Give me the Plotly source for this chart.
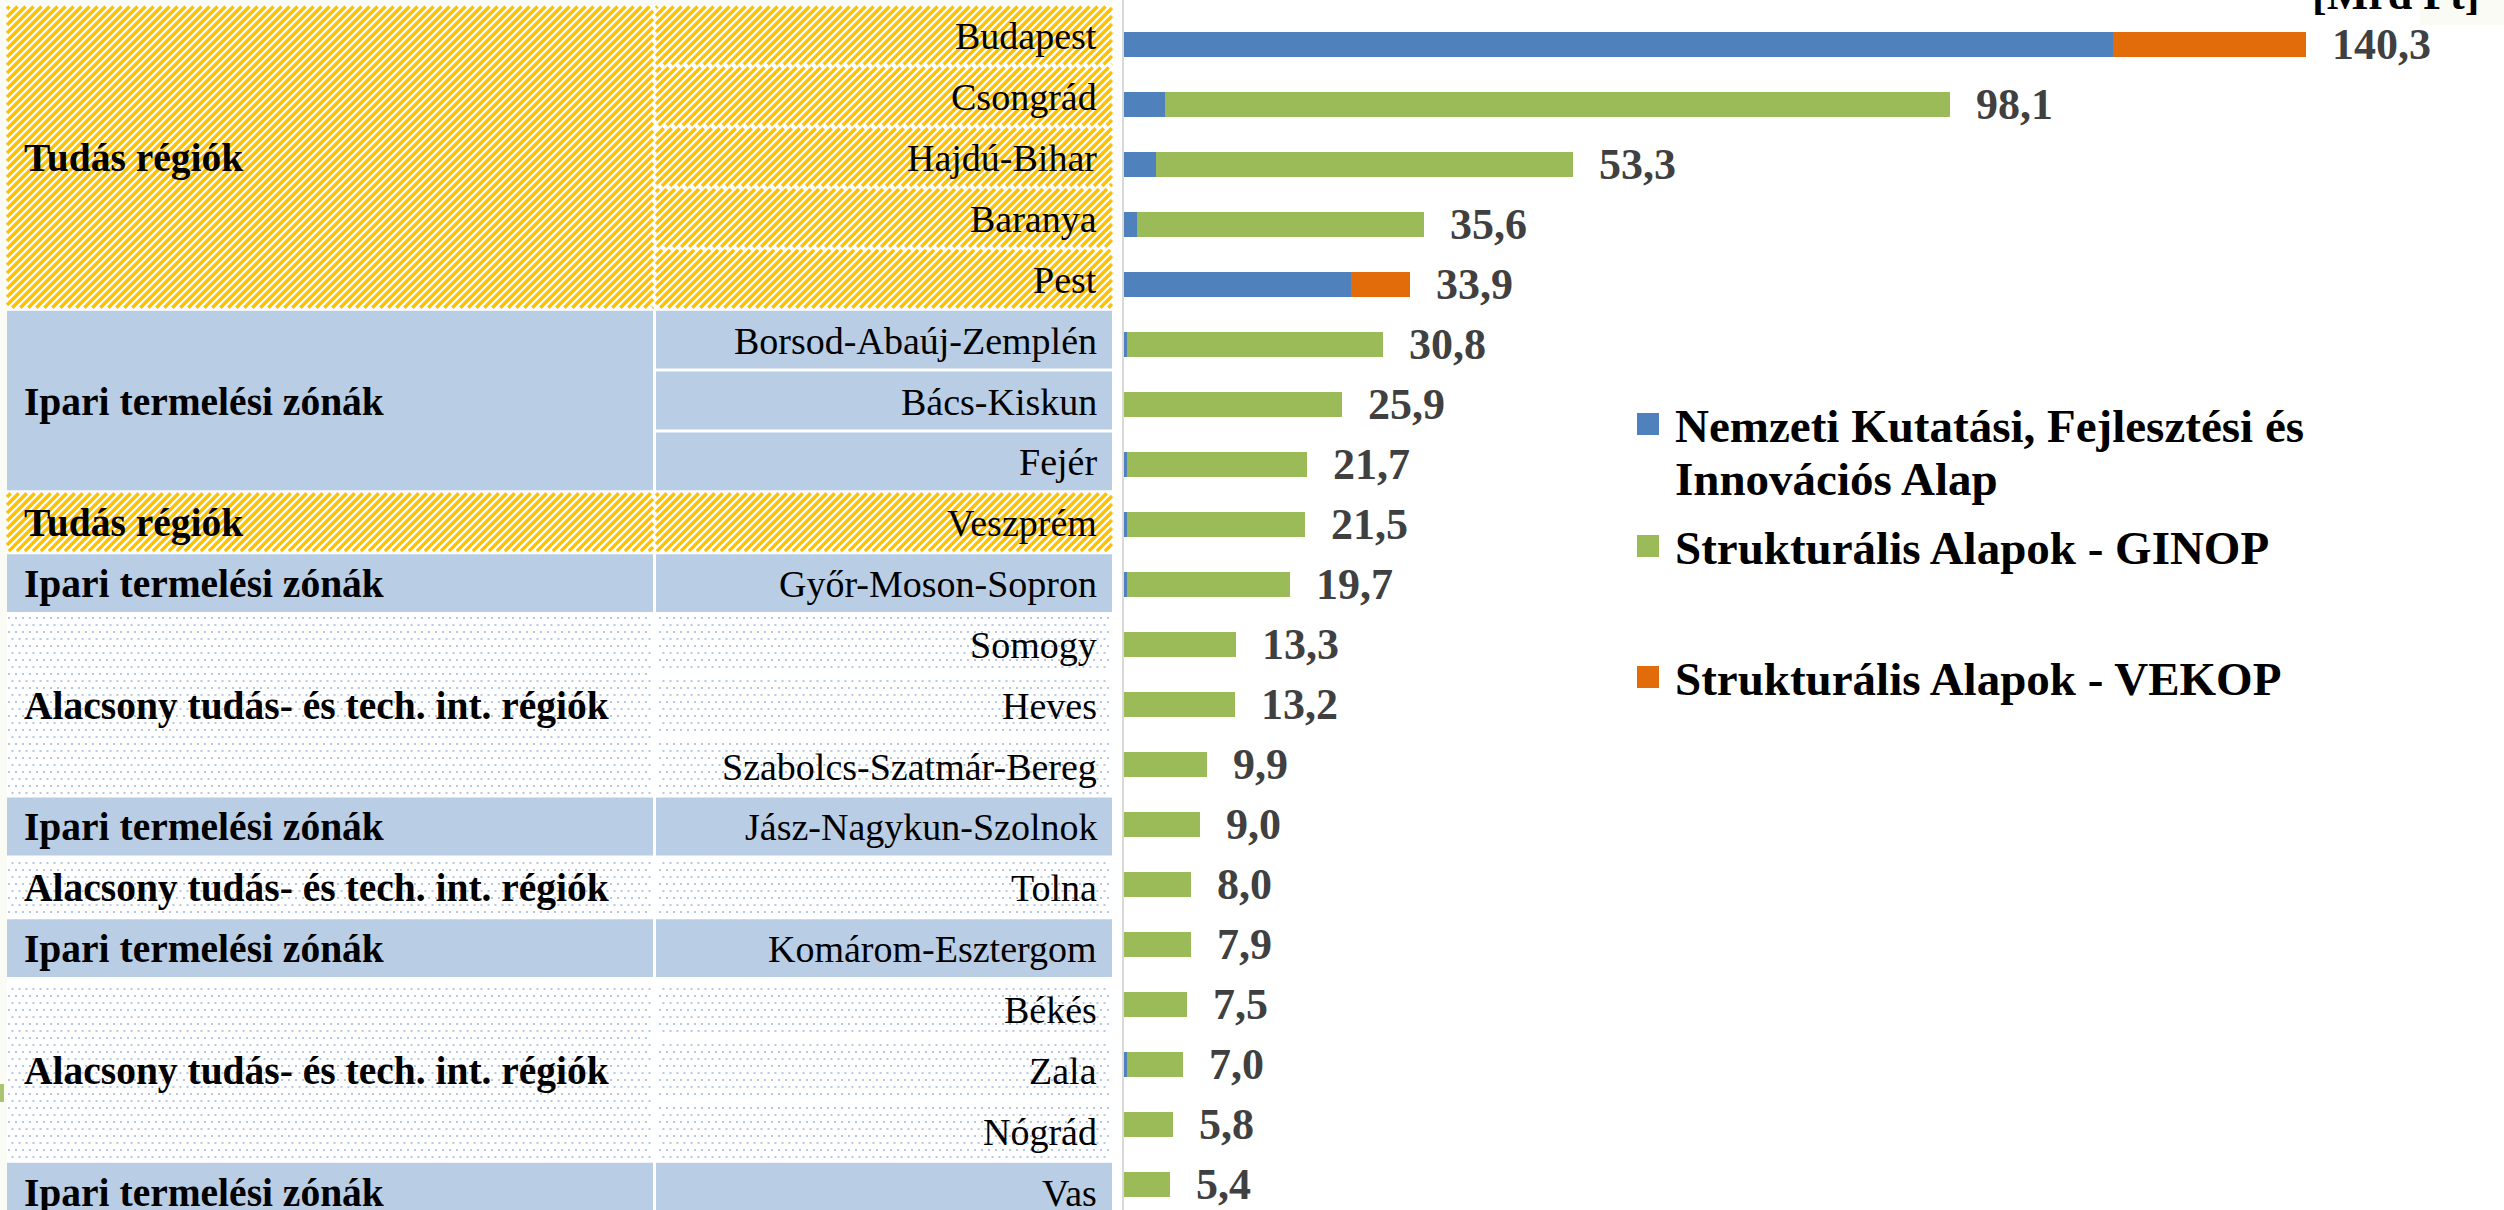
import math
import plotly.graph_objects as go

# ---------------- data ----------------
regions = ["Budapest", "Csongrád", "Hajdú-Bihar", "Baranya", "Pest",
           "Borsod-Abaúj-Zemplén", "Bács-Kiskun", "Fejér", "Veszprém",
           "Győr-Moson-Sopron", "Somogy", "Heves", "Szabolcs-Szatmár-Bereg",
           "Jász-Nagykun-Szolnok", "Tolna", "Komárom-Esztergom", "Békés",
           "Zala", "Nógrád", "Vas"]
nkfia = [117.4, 4.9, 3.8, 1.5, 27.0, 0.4, 0.0, 0.4, 0.3, 0.3,
         0.0, 0.0, 0.0, 0.0, 0.0, 0.0, 0.0, 0.3, 0.0, 0.0]
ginop = [0.0, 93.2, 49.5, 34.1, 0.0, 30.4, 25.9, 21.3, 21.2, 19.4,
         13.3, 13.2, 9.9, 9.0, 8.0, 7.9, 7.5, 6.7, 5.8, 5.4]
vekop = [22.9, 0.0, 0.0, 0.0, 6.9, 0.0, 0.0, 0.0, 0.0, 0.0,
         0.0, 0.0, 0.0, 0.0, 0.0, 0.0, 0.0, 0.0, 0.0, 0.0]
series_names = ["Nemzeti Kutatási, Fejlesztési és", "Innovációs Alap",
                "Strukturális Alapok - GINOP", "Strukturális Alapok - VEKOP"]
group_labels = ["Tudás régiók", "Ipari termelési zónák", "Tudás régiók",
                "Ipari termelési zónák", "Alacsony tudás- és tech. int. régiók",
                "Ipari termelési zónák", "Alacsony tudás- és tech. int. régiók",
                "Ipari termelési zónák", "Alacsony tudás- és tech. int. régiók",
                "Ipari termelési zónák"]
group_sizes = [5, 3, 1, 1, 3, 1, 1, 1, 3, 1]
unit_label = "[Mrd Ft]"

# ---------------- style ----------------
W, H = 2504, 1210
C_BLUE, C_GREEN, C_ORANGE = "#4F81BD", "#9BBB59", "#E36C0A"
CELL_BLUE = "#B9CDE5"
HATCH = "#FFC000"
DOT = "#B4C8E6"
CREAM = "#FAFBF4"
SERIF = "Liberation Serif, Times New Roman, serif"

X0_PX = 1124          # zero of value axis
PX_PER_UNIT = 8.425
ROW0_CENTER = 44.5    # bar row centers
ROW_STEP = 60.0
TBL_TOP, TBL_ROW = 5.0, 60.85
COL1 = (7, 653)
COL2 = (656, 1112)


def fx(px):
    return px / W


def fy(py):
    return 1 - py / H


totals = [round(a + b + c, 1) for a, b, c in zip(nkfia, ginop, vekop)]

fig = go.Figure()
for vals, col, nm in [(nkfia, C_BLUE, "NKFIA"), (ginop, C_GREEN, "GINOP"),
                      (vekop, C_ORANGE, "VEKOP")]:
    fig.add_trace(go.Bar(y=regions, x=vals, orientation="h", name=nm,
                         marker=dict(color=col, line=dict(width=0)),
                         width=0.41, showlegend=False, hoverinfo="x+y"))

shapes = []
annotations = []

# cream background strips
shapes.append(dict(type="rect", xref="paper", yref="paper", x0=0, x1=fx(COL1[0]),
                   y0=0, y1=1, fillcolor=CREAM, line=dict(width=0), layer="below"))
shapes.append(dict(type="rect", xref="paper", yref="paper", x0=0, x1=fx(COL2[1]),
                   y0=fy(TBL_TOP), y1=1, fillcolor=CREAM, line=dict(width=0), layer="below"))
shapes.append(dict(type="rect", xref="paper", yref="paper", x0=fx(0), x1=fx(4),
                   y0=fy(1102), y1=fy(1084), fillcolor="#A9C46E", line=dict(width=0),
                   layer="below"))
shapes.append(dict(type="rect", xref="paper", yref="paper", x0=fx(2420), x1=1,
                   y0=fy(25), y1=1, fillcolor=CREAM, line=dict(width=0), layer="below"))


def hatch_path(x0, y0, x1, y1, period=8.0):
    segs = []
    c = math.ceil((x0 + y0) / period) * period
    while c <= x1 + y1:
        xa = max(x0, c - y1)
        xb = min(x1, c - y0)
        if xb > xa:
            segs.append("M%.5f,%.5fL%.5f,%.5f" % (fx(xa), fy(c - xa), fx(xb), fy(c - xb)))
        c += period
    return "".join(segs)


def dots_path(x0, y0, x1, y1, step=7.0):
    segs = []
    yy = math.ceil(y0 / step) * step + 2
    while yy < y1 - 1:
        off = 0 if (int(round(yy / step)) % 2 == 0) else step / 2
        xx = math.ceil((x0 - off) / step) * step + off + 1
        while xx < x1 - 2:
            segs.append("M%.5f,%.5fL%.5f,%.5f" % (fx(xx), fy(yy), fx(xx + 2), fy(yy)))
            xx += step
        yy += step
    return "".join(segs)


def cell(x0, x1, ya, yb, kind):
    if kind == "blue":
        shapes.append(dict(type="rect", xref="paper", yref="paper", x0=fx(x0), x1=fx(x1),
                           y0=fy(yb), y1=fy(ya), fillcolor=CELL_BLUE,
                           line=dict(width=0), layer="below"))
    elif kind == "hatch":
        shapes.append(dict(type="path", xref="paper", yref="paper",
                           path=hatch_path(x0, ya, x1, yb), fillcolor="rgba(0,0,0,0)",
                           line=dict(color=HATCH, width=3.4), layer="below"))
    else:
        shapes.append(dict(type="path", xref="paper", yref="paper",
                           path=dots_path(x0, ya, x1, yb), fillcolor="rgba(0,0,0,0)",
                           line=dict(color=DOT, width=2), layer="below"))


row = 0
for lab, size in zip(group_labels, group_sizes):
    kind = "hatch" if lab.startswith("Tudás") else ("blue" if lab.startswith("Ipari") else "dots")
    g_top = TBL_TOP + row * TBL_ROW
    g_bot = TBL_TOP + (row + size) * TBL_ROW
    cell(COL1[0], COL1[1], g_top + 1.5, g_bot - 1.5, kind)
    for r in range(row, row + size):
        ct = TBL_TOP + r * TBL_ROW
        cell(COL2[0], COL2[1], ct + 1.5, ct + TBL_ROW - 1.5, kind)
    annotations.append(dict(xref="paper", yref="paper", x=fx(22), y=fy((g_top + g_bot) / 2 + 1),
                            text="<b>%s</b>" % lab, showarrow=False, xanchor="left",
                            yanchor="middle", font=dict(family=SERIF, size=39.5, color="#000000")))
    row += size

for i, name in enumerate(regions):
    cy = TBL_TOP + (i + 0.5) * TBL_ROW
    annotations.append(dict(xref="paper", yref="paper", x=fx(1099), y=fy(cy + 1),
                            text=name, showarrow=False, xanchor="right", yanchor="middle",
                            font=dict(family=SERIF, size=38, color="#000000")))

# value labels
for i, t in enumerate(totals):
    annotations.append(dict(xref="x", yref="y", x=t, y=regions[i], xshift=24,
                            text="<b>%s</b>" % ("%.1f" % t).replace(".", ","),
                            showarrow=False, xanchor="left", yanchor="middle",
                            font=dict(family=SERIF, size=44, color="#404040")))

# legend (manual)
leg_items = [(C_BLUE, 424, [series_names[0], series_names[1]]),
             (C_GREEN, 546, [series_names[2]]),
             (C_ORANGE, 677, [series_names[3]])]
for col, yc, lines in leg_items:
    shapes.append(dict(type="rect", xref="paper", yref="paper", x0=fx(1637), x1=fx(1659),
                       y0=fy(yc + 11), y1=fy(yc - 11), fillcolor=col, line=dict(width=0)))
    for k, ln in enumerate(lines):
        annotations.append(dict(xref="paper", yref="paper", x=fx(1673), y=fy(yc + 53 * k + 2),
                                text="<b>%s</b>" % ln, showarrow=False, xanchor="left",
                                yanchor="middle",
                                font=dict(family=SERIF, size=47, color="#000000")))

annotations.append(dict(xref="paper", yref="paper", x=fx(2395), y=fy(21),
                        text="<b>%s</b>" % unit_label, showarrow=False, xanchor="center",
                        yanchor="bottom", font=dict(family=SERIF, size=44, color="#000000")))

y_top = -ROW0_CENTER / ROW_STEP
y_bot = (H - ROW0_CENTER) / ROW_STEP

fig.update_layout(
    width=W, height=H, barmode="stack",
    margin=dict(l=0, r=0, t=0, b=0, pad=0),
    paper_bgcolor="#FFFFFF", plot_bgcolor="#FFFFFF",
    xaxis=dict(domain=[X0_PX / W, 1], range=[0, (W - X0_PX) / PX_PER_UNIT],
               showgrid=False, zeroline=False, showticklabels=False, ticks=""),
    yaxis=dict(type="category", categoryorder="array", categoryarray=regions,
               range=[y_bot, y_top], showgrid=False, zeroline=False,
               showticklabels=False, ticks="", showline=True,
               linecolor="#D9D9D9", linewidth=2),
    shapes=shapes, annotations=annotations,
)

fig.write_html("out.html",
               config={"displayModeBar": False},
               post_script="document.body.style.margin='0px';"
                           "document.body.style.overflow='hidden';")
